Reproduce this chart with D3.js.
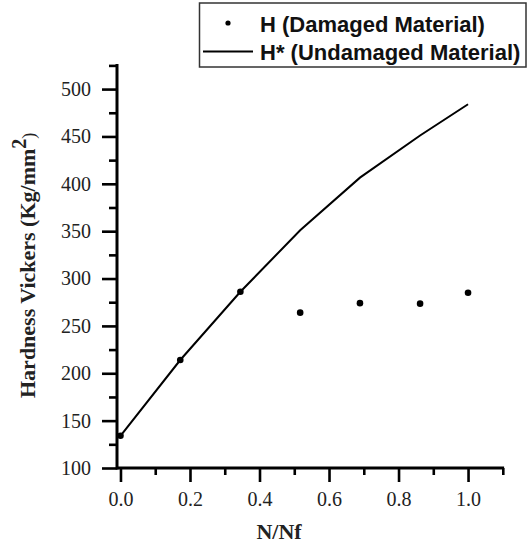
<!DOCTYPE html>
<html>
<head>
<meta charset="utf-8">
<script src="https://cdn.jsdelivr.net/npm/d3@7"></script>
<style>
  html, body { margin: 0; padding: 0; background: #fff; }
  svg { display: block; }
  .tick text { font-family: 'Liberation Serif', 'Times New Roman', serif !important; font-size: 20px !important; fill: #222; }
  .tick line { stroke: #000; stroke-width: 2.6px; }
</style>
</head>
<body>
<svg id="chart" width="531" height="544"></svg>
<script>
// Data
const nRatio = [0, 0.172, 0.345, 0.517, 0.689, 0.862, 1.0];
const hDamaged = [134, 214, 286, 264, 274, 273.5, 285];
const hUndamaged = [134, 214, 286, 351, 406.5, 451, 484];
const xTickValues = [0, 0.2, 0.4, 0.6, 0.8, 1.0];
const xMinorValues = [0.1, 0.3, 0.5, 0.7, 0.9, 1.1];
const yTickValues = [100, 150, 200, 250, 300, 350, 400, 450, 500];
const yMinorValues = [125, 175, 225, 275, 325, 375, 425, 475, 525];
const legendLabels = ["H (Damaged Material)", "H* (Undamaged Material)"];

const svg = d3.select("#chart");

const x = d3.scaleLinear().domain([-0.01, 1.1]).range([117, 502.8]);
const y = d3.scaleLinear().domain([100, 525]).range([468, 65.4]);

const serif = "'Liberation Serif', 'Times New Roman', serif";
const sans = "'Liberation Sans', Arial, sans-serif";

// X axis
const xAxis = svg.append("g").attr("transform", `translate(0,${y(100)})`)
  .attr("font-family", serif).attr("font-size", 20)
  .call(d3.axisBottom(x).tickValues(xTickValues).tickSize(14).tickPadding(10)
    .tickFormat(d3.format(".1f")));
const xMinor = svg.append("g").attr("transform", `translate(0,${y(100)})`)
  .call(d3.axisBottom(x).tickValues(xMinorValues).tickSize(7).tickFormat(""));

// Y axis
const yAxis = svg.append("g").attr("transform", `translate(${x(-0.01)},0)`)
  .call(d3.axisLeft(y).tickValues(yTickValues).tickSize(15).tickPadding(11)
    .tickFormat(d3.format("d")));
const yMinor = svg.append("g").attr("transform", `translate(${x(-0.01)},0)`)
  .call(d3.axisLeft(y).tickValues(yMinorValues).tickSize(8).tickFormat(""));

[xAxis, xMinor, yAxis, yMinor].forEach(g => {
  g.attr("font-family", serif).attr("font-size", 20);
  g.select(".domain").remove();
  g.selectAll(".tick line").style("stroke", "#000").style("stroke-width", "2.6px");
  g.selectAll(".tick text").style("font-family", serif).style("font-size", "20px")
   .style("fill", "#222");
});
svg.append("line").attr("x1", x(-0.01)).attr("x2", x(1.1) + 1.3)
  .attr("y1", y(100)).attr("y2", y(100)).attr("stroke", "#000").attr("stroke-width", 3);
svg.append("line").attr("x1", x(-0.01)).attr("x2", x(-0.01))
  .attr("y1", y(100) + 1.5).attr("y2", y(525) - 1.3).attr("stroke", "#000").attr("stroke-width", 3);

// Axis titles
svg.append("text").attr("x", 279).attr("y", 539).attr("text-anchor", "middle")
  .attr("font-family", serif).attr("font-weight", "bold").attr("font-size", 22)
  .attr("fill", "#222").text("N/Nf");

const yt = svg.append("text").attr("transform", "translate(35,398) rotate(-90)")
  .attr("text-anchor", "start").attr("font-family", serif).attr("font-weight", "bold")
  .attr("font-size", 22).attr("fill", "#222");
yt.append("tspan").text("Hardness Vickers (Kg/mm");
yt.append("tspan").attr("dy", -9).attr("font-size", 20).text("2");
yt.append("tspan").attr("dy", 9).attr("font-weight", "normal").attr("font-size", 18).text(")");

// Undamaged line
const line = d3.line().x((d, i) => x(nRatio[i])).y(d => y(d));
svg.append("path").datum(hUndamaged).attr("d", line)
  .attr("fill", "none").attr("stroke", "#000").attr("stroke-width", 2);

// Damaged points
svg.selectAll("circle.pt").data(hDamaged).enter().append("circle")
  .attr("class", "pt").attr("cx", (d, i) => x(nRatio[i])).attr("cy", d => y(d))
  .attr("r", 3.3).attr("fill", "#000");

// Legend
const lg = svg.append("g");
lg.append("rect").attr("x", 199.5).attr("y", 3).attr("width", 326.5).attr("height", 64)
  .attr("fill", "#fff").attr("stroke", "#333").attr("stroke-width", 1.5);
lg.append("circle").attr("cx", 228).attr("cy", 23).attr("r", 2.6).attr("fill", "#000");
lg.append("line").attr("x1", 203).attr("x2", 253).attr("y1", 51.5).attr("y2", 51.5)
  .attr("stroke", "#000").attr("stroke-width", 2);
lg.selectAll("text").data(legendLabels).enter().append("text")
  .attr("x", 260).attr("y", (d, i) => i === 0 ? 31.5 : 60)
  .attr("font-family", sans).attr("font-weight", "bold").attr("font-size", 22)
  .attr("fill", "#111").text(d => d);
</script>
</body>
</html>
